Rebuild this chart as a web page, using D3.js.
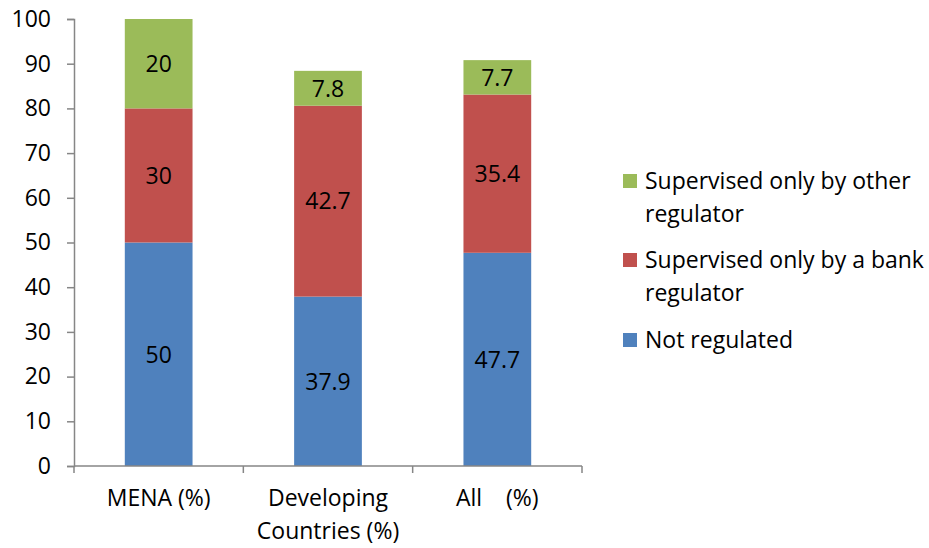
<!DOCTYPE html>
<html><head><meta charset="utf-8">
<script src="https://cdn.jsdelivr.net/npm/d3@7"></script>
<style>body{margin:0;background:#fff}text{font-family:"Open Sans",sans-serif;fill:#000}</style>
</head><body><svg id="c" width="929" height="548"></svg>
<script>
const categories = [["MENA (%)"], ["Developing", "Countries (%)"], ["All    (%)"]];
const catKeys = ["MENA", "Developing", "All"];
const notRegulated = [50, 37.9, 47.7];
const bankRegulator = [30, 42.7, 35.4];
const otherRegulator = [20, 7.8, 7.7];
const seriesNames = ["Not regulated", "Supervised only by a bank regulator", "Supervised only by other regulator"];
const legendLines = [["Not regulated"], ["Supervised only by a bank", "regulator"], ["Supervised only by other", "regulator"]];
const colors = ["#4F81BD", "#C0504D", "#9BBB59"];
const yTicks = [0,10,20,30,40,50,60,70,80,90,100];

const FS = 23;
const svg = d3.select("#c");
const x = d3.scaleBand().domain(catKeys).range([74, 582]).paddingInner(0.6).paddingOuter(0.3);
const y = d3.scaleLinear().domain([0, 100]).range([466, 19]);
const seriesVals = [notRegulated, bankRegulator, otherRegulator];
const rows = catKeys.map((k, i) => ({key: k, s0: notRegulated[i], s1: bankRegulator[i], s2: otherRegulator[i]}));
const stack = d3.stack().keys(["s0","s1","s2"])(rows);

stack.forEach((layer, li) => {
  const g = svg.append("g");
  g.selectAll("rect").data(layer).join("rect")
    .attr("x", d => x(d.data.key)).attr("width", x.bandwidth())
    .attr("y", d => y(d[1])).attr("height", d => y(d[0]) - y(d[1]))
    .attr("fill", colors[li]);
  g.selectAll("text").data(layer).join("text")
    .attr("x", d => x(d.data.key) + x.bandwidth()/2)
    .attr("y", d => (y(d[0]) + y(d[1]))/2)
    .attr("dy", "0.36em").attr("text-anchor", "middle").attr("font-size", FS)
    .text((d, i) => seriesVals[li][i]);
});

// y axis
const ya = svg.append("g").attr("transform", "translate(74,0)")
  .call(d3.axisLeft(y).tickValues(yTicks).tickSize(7).tickPadding(16));
ya.select(".domain").attr("stroke", "#868686").attr("stroke-width", 1.5);
ya.selectAll(".tick line").attr("stroke", "#868686").attr("stroke-width", 1.5);
ya.selectAll(".tick text").attr("font-size", FS).attr("font-family", "Open Sans").attr("fill", "#000");

// x axis
const xa = svg.append("g").attr("transform", "translate(0,466)");
xa.append("line").attr("x1", 74).attr("x2", 582).attr("stroke", "#868686").attr("stroke-width", 1.5);
const bounds = [74, 74 + (582-74)/3, 74 + 2*(582-74)/3, 582];
xa.selectAll("line.t").data(bounds).join("line").attr("class","t")
  .attr("x1", d => d).attr("x2", d => d).attr("y1", 0).attr("y2", 7)
  .attr("stroke", "#868686").attr("stroke-width", 1.5);
categories.forEach((lines, i) => {
  const t = xa.append("text").attr("x", x(catKeys[i]) + x.bandwidth()/2).attr("y", 40)
    .attr("text-anchor", "middle").attr("font-size", FS).style("white-space", "pre");
  lines.forEach((l, j) => t.append("tspan").attr("x", x(catKeys[i]) + x.bandwidth()/2).attr("dy", j ? 33 : 0).text(l));
});

// legend (top to bottom: other, bank, not)
const order = [2, 1, 0];
const legTop = [174, 253, 333];
order.forEach((si, k) => {
  const g = svg.append("g");
  g.append("rect").attr("x", 623).attr("y", legTop[k]).attr("width", 14).attr("height", 14).attr("fill", colors[si]);
  const t = g.append("text").attr("x", 645).attr("y", legTop[k] + 15).attr("font-size", FS);
  legendLines[si].forEach((l, j) => t.append("tspan").attr("x", 645).attr("dy", j ? 33 : 0).text(l));
});
</script></body></html>
